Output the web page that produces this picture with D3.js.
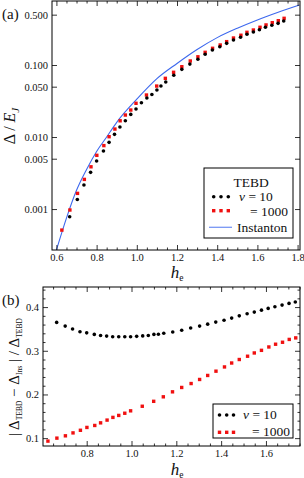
<!DOCTYPE html>
<html>
<head>
<meta charset="utf-8">
<script src="https://cdn.jsdelivr.net/npm/d3@7"></script>
<style>
  body { margin: 0; background: #fff; }
  svg { display: block; }
  svg text { font-family: "Liberation Serif", "Times New Roman", serif; }
</style>
</head>
<body>
<svg id="chart" width="304" height="478"></svg>
<script>
// ---- data ----
// instanton curve, panel (a)
const hIns   = [0.60, 0.652, 0.70, 0.75, 0.80, 0.85, 0.90, 1.0, 1.1, 1.2, 1.3, 1.4, 1.5, 1.6, 1.7, 1.81];
const gapIns = [0.00027, 0.00078, 0.00182, 0.00355, 0.0063, 0.0100, 0.0160, 0.0335, 0.0646,
                0.105, 0.164, 0.240, 0.324, 0.423, 0.535, 0.68];

// TEBD, nu = 10
const h10 = [0.666, 0.704, 0.737, 0.77, 0.80, 0.834, 0.862, 0.889, 0.916, 0.943, 0.97, 0.996,
             1.023, 1.05, 1.075, 1.10, 1.12, 1.144, 1.184, 1.224, 1.264, 1.304, 1.34, 1.376,
             1.413, 1.447, 1.481, 1.516, 1.548, 1.58, 1.61, 1.64, 1.672, 1.703, 1.731];
const gap10 = [0.00078, 0.00136, 0.00216, 0.00323, 0.00464, 0.0064, 0.00844, 0.0109, 0.01376,
               0.0168, 0.0206, 0.0245, 0.0299, 0.0348, 0.039, 0.045, 0.051, 0.058, 0.072,
               0.0871, 0.103, 0.120, 0.141, 0.1616, 0.1795, 0.200, 0.222, 0.2425, 0.267,
               0.287, 0.309, 0.334, 0.356, 0.379, 0.408];
const err10 = [0.365, 0.3565, 0.350, 0.3434, 0.341, 0.3375, 0.335, 0.3336, 0.332, 0.332, 0.332,
               0.332, 0.333, 0.334, 0.335, 0.3375, 0.338, 0.340, 0.343, 0.347, 0.352, 0.3565,
               0.361, 0.3656, 0.370, 0.3748, 0.380, 0.3846, 0.3885, 0.393, 0.397, 0.4007,
               0.4046, 0.4085, 0.4115];

// TEBD, nu = 1000
const h1000 = [0.627, 0.667, 0.705, 0.739, 0.772, 0.801, 0.836, 0.862, 0.891, 0.917, 0.943, 0.97,
               0.996, 1.048, 1.099, 1.142, 1.183, 1.224, 1.266, 1.304, 1.34, 1.377, 1.415,
               1.447, 1.481, 1.518, 1.548, 1.58, 1.613, 1.643, 1.674, 1.704, 1.733];
const gap1000 = [0.00051, 0.00097, 0.00165, 0.00258, 0.00386, 0.00557, 0.0076, 0.0101, 0.0129,
                 0.0168, 0.0202, 0.0237, 0.0294, 0.0383, 0.051, 0.0653, 0.0792, 0.0947,
                 0.1137, 0.130, 0.150, 0.1706, 0.1896, 0.211, 0.237, 0.259, 0.2845, 0.306,
                 0.334, 0.36, 0.387, 0.412, 0.445];
const err1000 = [0.0932, 0.100, 0.1053, 0.112, 0.118, 0.1245, 0.129, 0.135, 0.1413, 0.1475,
                 0.152, 0.157, 0.1625, 0.173, 0.1843, 0.1946, 0.206, 0.216, 0.225, 0.2343,
                 0.2435, 0.2533, 0.263, 0.272, 0.28, 0.2875, 0.295, 0.301, 0.3087, 0.315,
                 0.3195, 0.326, 0.3295];

// ticks
const xMajorA = [0.6, 0.8, 1.0, 1.2, 1.4, 1.6, 1.8];
const yMajorA = [0.001, 0.005, 0.010, 0.050, 0.100, 0.500];
const xMajorB = [0.8, 1.0, 1.2, 1.4, 1.6];
const yMajorB = [0.1, 0.2, 0.3, 0.4];

const FONT = '"Liberation Serif", "Times New Roman", serif';
const BLUE = "#3d68ee", RED = "#f01010";
const svg = d3.select("#chart").style("font-family", FONT);

function minorTicks(lo, hi, step, majors) {
  const out = [];
  for (let v = Math.ceil(lo / step) * step; v <= hi + 1e-9; v += step) {
    const r = +v.toFixed(4);
    if (!majors.some(m => Math.abs(m - r) < 1e-6)) out.push(r);
  }
  return out;
}

function styleAxis(g) {
  g.select(".domain").remove();
  g.attr("font-family", null).attr("font-size", 10.5).style("font-family", FONT);
  g.selectAll("line").attr("stroke", "#000").attr("stroke-width", 0.8);
  g.selectAll("text").attr("fill", "#111");
}

function drawFrame(x, y, o) {
  const [l, r] = x.range(), [b, t] = y.range();
  const g = svg.append("g");
  const xMin = minorTicks(x.domain()[0], x.domain()[1], o.xStep, o.xMajor);
  // bottom + top
  g.append("g").attr("transform", `translate(0,${b})`)
    .call(d3.axisBottom(x).tickValues(o.xMajor).tickSize(-5).tickPadding(4).tickFormat(d3.format(".1f")))
    .call(styleAxis);
  g.append("g").attr("transform", `translate(0,${b})`)
    .call(d3.axisBottom(x).tickValues(xMin).tickSize(-2.5).tickFormat("")).call(styleAxis);
  g.append("g").attr("transform", `translate(0,${t})`)
    .call(d3.axisTop(x).tickValues(o.xMajor).tickSize(-5).tickFormat("")).call(styleAxis);
  g.append("g").attr("transform", `translate(0,${t})`)
    .call(d3.axisTop(x).tickValues(xMin).tickSize(-2.5).tickFormat("")).call(styleAxis);
  // left + right
  g.append("g").attr("transform", `translate(${l},0)`)
    .call(d3.axisLeft(y).tickValues(o.yMajor).tickSize(-5).tickPadding(4).tickFormat(o.yFormat))
    .call(styleAxis);
  g.append("g").attr("transform", `translate(${r},0)`)
    .call(d3.axisRight(y).tickValues(o.yMajor).tickSize(-5).tickFormat("")).call(styleAxis);
  if (o.yMinor) {
    g.append("g").attr("transform", `translate(${l},0)`)
      .call(d3.axisLeft(y).tickValues(o.yMinor).tickSize(-2.5).tickFormat("")).call(styleAxis);
    g.append("g").attr("transform", `translate(${r},0)`)
      .call(d3.axisRight(y).tickValues(o.yMinor).tickSize(-2.5).tickFormat("")).call(styleAxis);
  }
  g.append("rect").attr("x", l).attr("y", t).attr("width", r - l).attr("height", b - t)
    .attr("fill", "none").attr("stroke", "#000").attr("stroke-width", 1);
}

function dots(g, x, y, hs, vs) {
  g.selectAll(null).data(hs).enter().append("circle")
    .attr("cx", d => x(d)).attr("cy", (d, i) => y(vs[i])).attr("r", 1.8).attr("fill", "#000");
}
function squares(g, x, y, hs, vs) {
  const s = 3.4;
  g.selectAll(null).data(hs).enter().append("rect")
    .attr("x", d => x(d) - s / 2).attr("y", (d, i) => y(vs[i]) - s / 2)
    .attr("width", s).attr("height", s).attr("fill", RED);
}

function hLabel(cx, baseline) {
  const t = svg.append("text").attr("x", cx).attr("y", baseline).attr("text-anchor", "middle")
    .attr("fill", "#111");
  t.append("tspan").attr("font-style", "italic").attr("font-size", 17).text("h");
  t.append("tspan").attr("font-size", 9.5).attr("dy", 2.5).text("e");
}

// ---- panel (a) ----
const xa = d3.scaleLinear().domain([0.578, 1.812]).range([52, 300]);
const ya = d3.scaleLog().domain([0.00027, 0.774]).range([250, 1]);

svg.append("clipPath").attr("id", "clipA").append("rect")
  .attr("x", 52).attr("y", 1).attr("width", 248).attr("height", 249);
const ga = svg.append("g").attr("clip-path", "url(#clipA)");
ga.append("path").datum(hIns)
  .attr("d", d3.line().x(d => xa(d)).y((d, i) => ya(gapIns[i])).curve(d3.curveMonotoneX))
  .attr("fill", "none").attr("stroke", BLUE).attr("stroke-width", 1.1);
squares(ga, xa, ya, h1000, gap1000);
dots(ga, xa, ya, h10, gap10);

drawFrame(xa, ya, { xMajor: xMajorA, xStep: 0.05, yMajor: yMajorA, yFormat: d3.format(".3f") });

svg.append("text").attr("x", 2).attr("y", 19).attr("font-size", 15)
  .attr("fill", "#111").text("(a)");
const yla = svg.append("text").attr("transform", "translate(15,126) rotate(-90)")
  .attr("text-anchor", "middle").attr("font-size", 16).attr("fill", "#111");
yla.append("tspan").text("Δ / ");
yla.append("tspan").attr("font-style", "italic").text("E");
yla.append("tspan").attr("font-style", "italic").attr("font-size", 11).attr("dy", 4).text("J");
hLabel(177, 278);

// legend (a)
const la = svg.append("g").attr("font-size", 13.5).attr("fill", "#111");
la.append("rect").attr("x", 204).attr("y", 168).attr("width", 89).attr("height", 70)
  .attr("fill", "#fff").attr("stroke", "#000").attr("stroke-width", 1);
la.append("text").attr("x", 233.5).attr("y", 186.5).text("TEBD");
[213.7, 221, 228.3].forEach(cx => la.append("circle").attr("cx", cx).attr("cy", 196.7).attr("r", 1.8).attr("fill", "#000"));
[213.7, 221, 228.3].forEach(cx => la.append("rect").attr("x", cx - 1.7).attr("y", 209).attr("width", 3.4).attr("height", 3.4).attr("fill", RED));
la.append("line").attr("x1", 209).attr("x2", 232).attr("y1", 227.3).attr("y2", 227.3)
  .attr("stroke", BLUE).attr("stroke-opacity", 0.7).attr("stroke-width", 1.3);
const nu = la.append("text").attr("x", 239).attr("y", 201);
nu.append("tspan").attr("font-style", "italic").text("ν");
nu.append("tspan").text(" = 10");
la.append("text").attr("x", 288).attr("y", 216).attr("text-anchor", "end").text("= 1000");
la.append("text").attr("x", 237).attr("y", 231.5).text("Instanton");

// ---- panel (b) ----
const xb = d3.scaleLinear().domain([0.605, 1.752]).range([43, 300]);
const yb = d3.scaleLinear().domain([0.082, 0.446]).range([446, 287]);

svg.append("clipPath").attr("id", "clipB").append("rect")
  .attr("x", 43).attr("y", 287).attr("width", 257).attr("height", 159);
const gb = svg.append("g").attr("clip-path", "url(#clipB)");
squares(gb, xb, yb, h1000, err1000);
dots(gb, xb, yb, h10, err10);

drawFrame(xb, yb, {
  xMajor: xMajorB, xStep: 0.05, yMajor: yMajorB,
  yMinor: minorTicks(0.082, 0.446, 0.02, yMajorB), yFormat: d3.format(".1f")
});

svg.append("text").attr("x", 2).attr("y", 305).attr("font-size", 15)
  .attr("fill", "#111").text("(b)");
const ylb = svg.append("text").attr("transform", "translate(19,377) rotate(-90)")
  .attr("text-anchor", "middle").attr("font-size", 15).attr("fill", "#111");
function sub(t, s) {
  t.append("tspan").attr("font-size", 7.5).attr("dy", 2.5).text(s);
  return t.append("tspan").attr("dy", -2.5);
}
ylb.append("tspan").text("| Δ");
sub(ylb, "TEBD").text(" − Δ");
sub(ylb, "Ins").text(" | / Δ");
sub(ylb, "TEBD");
hLabel(177, 475);

// legend (b)
const lb = svg.append("g").attr("font-size", 13.5).attr("fill", "#111");
lb.append("rect").attr("x", 213).attr("y", 404).attr("width", 80).attr("height", 34)
  .attr("fill", "#fff").attr("stroke", "#000").attr("stroke-width", 1);
[219.5, 226.7, 233.5].forEach(cx => lb.append("circle").attr("cx", cx).attr("cy", 415).attr("r", 1.8).attr("fill", "#000"));
[219.5, 226.7, 233.5].forEach(cx => lb.append("rect").attr("x", cx - 1.7).attr("y", 430.6).attr("width", 3.4).attr("height", 3.4).attr("fill", RED));
const nub = lb.append("text").attr("x", 243).attr("y", 419);
nub.append("tspan").attr("font-style", "italic").text("ν");
nub.append("tspan").text(" = 10");
lb.append("text").attr("x", 290).attr("y", 436).attr("text-anchor", "end").text("= 1000");
</script>
</body>
</html>
